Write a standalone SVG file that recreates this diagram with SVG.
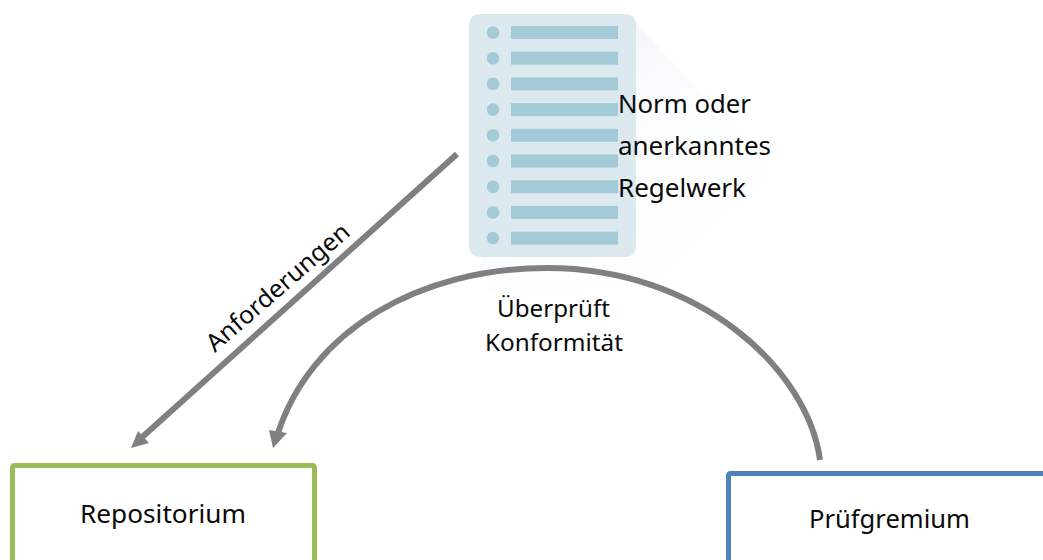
<svg xmlns="http://www.w3.org/2000/svg" width="1043" height="560" viewBox="0 0 1043 560">
<style>
text{font-family:"Noto Sans","Open Sans","Liberation Sans",sans-serif;fill:#0a0a0a}
.t27{font-size:26px}.t24{font-size:24.500px}.t23{font-size:23px}
.bar{fill:#a3cad6}.dot{fill:#a3cad6}
.conn{fill:none;stroke:#808080;stroke-width:6}
.head{fill:#808080}
</style>
<defs>
<linearGradient id="sh" x1="0" y1="0" x2="1" y2="1">
<stop offset="0" stop-color="#e6eff3" stop-opacity=".85"/>
<stop offset=".85" stop-color="#ffffff" stop-opacity="0"/>
</linearGradient>
</defs>
<rect width="1043" height="560" fill="#fff"/>
<g id="document">
<polygon points="632,18 790,190 790,290 490,290 480,256" fill="url(#sh)"/>
<rect x="469" y="14" width="167" height="243" rx="10" fill="#dce9ee"/>
<g id="rows">
<circle class="dot" cx="493" cy="32.500" r="6.300"/><rect class="bar" x="511" y="26" width="107" height="13"/>
<circle class="dot" cx="493" cy="58.200" r="6.300"/><rect class="bar" x="511" y="51.700" width="107" height="13"/>
<circle class="dot" cx="493" cy="83.900" r="6.300"/><rect class="bar" x="511" y="77.400" width="107" height="13"/>
<circle class="dot" cx="493" cy="109.600" r="6.300"/><rect class="bar" x="511" y="103.100" width="107" height="13"/>
<circle class="dot" cx="493" cy="135.300" r="6.300"/><rect class="bar" x="511" y="128.800" width="107" height="13"/>
<circle class="dot" cx="493" cy="161" r="6.300"/><rect class="bar" x="511" y="154.500" width="107" height="13"/>
<circle class="dot" cx="493" cy="186.700" r="6.300"/><rect class="bar" x="511" y="180.200" width="107" height="13"/>
<circle class="dot" cx="493" cy="212.400" r="6.300"/><rect class="bar" x="511" y="205.900" width="107" height="13"/>
<circle class="dot" cx="493" cy="238.100" r="6.300"/><rect class="bar" x="511" y="231.600" width="107" height="13"/>
</g>
<text class="t27" x="618" y="113" textLength="133" lengthAdjust="spacingAndGlyphs">Norm oder</text>
<text class="t27" x="618" y="155" textLength="153" lengthAdjust="spacingAndGlyphs">anerkanntes</text>
<text class="t27" x="618" y="197" textLength="128" lengthAdjust="spacingAndGlyphs">Regelwerk</text>
</g>
<g id="connectors">
<path class="conn" d="M457 154 L139 440"/>
<polygon class="head" points="131,448 138,431 149,443"/>
<path class="conn" d="M820 460 C808 370 700 268 547 268 C420 268 310 330 277 436"/>
<polygon class="head" points="273,448 269,430 287,433"/>
</g>
<g id="labels">
<text class="t24" transform="translate(215 353) rotate(-41)" textLength="181" lengthAdjust="spacingAndGlyphs">Anforderungen</text>
<text class="t23" x="497" y="317" textLength="113" lengthAdjust="spacingAndGlyphs">Überprüft</text>
<text class="t23" x="485" y="351" textLength="138" lengthAdjust="spacingAndGlyphs">Konformität</text>
</g>
<g id="repositorium">
<rect x="12.500" y="465.500" width="302" height="110" rx="2" fill="#fff" stroke="#9bbb59" stroke-width="5"/>
<text class="t27" x="80" y="523" textLength="166" lengthAdjust="spacingAndGlyphs">Repositorium</text>
</g>
<g id="pruefgremium">
<rect x="728.500" y="473.500" width="340" height="110" rx="2" fill="#fff" stroke="#4f81bd" stroke-width="5"/>
<text class="t27" x="809" y="528" textLength="161" lengthAdjust="spacingAndGlyphs">Prüfgremium</text>
</g>
</svg>
